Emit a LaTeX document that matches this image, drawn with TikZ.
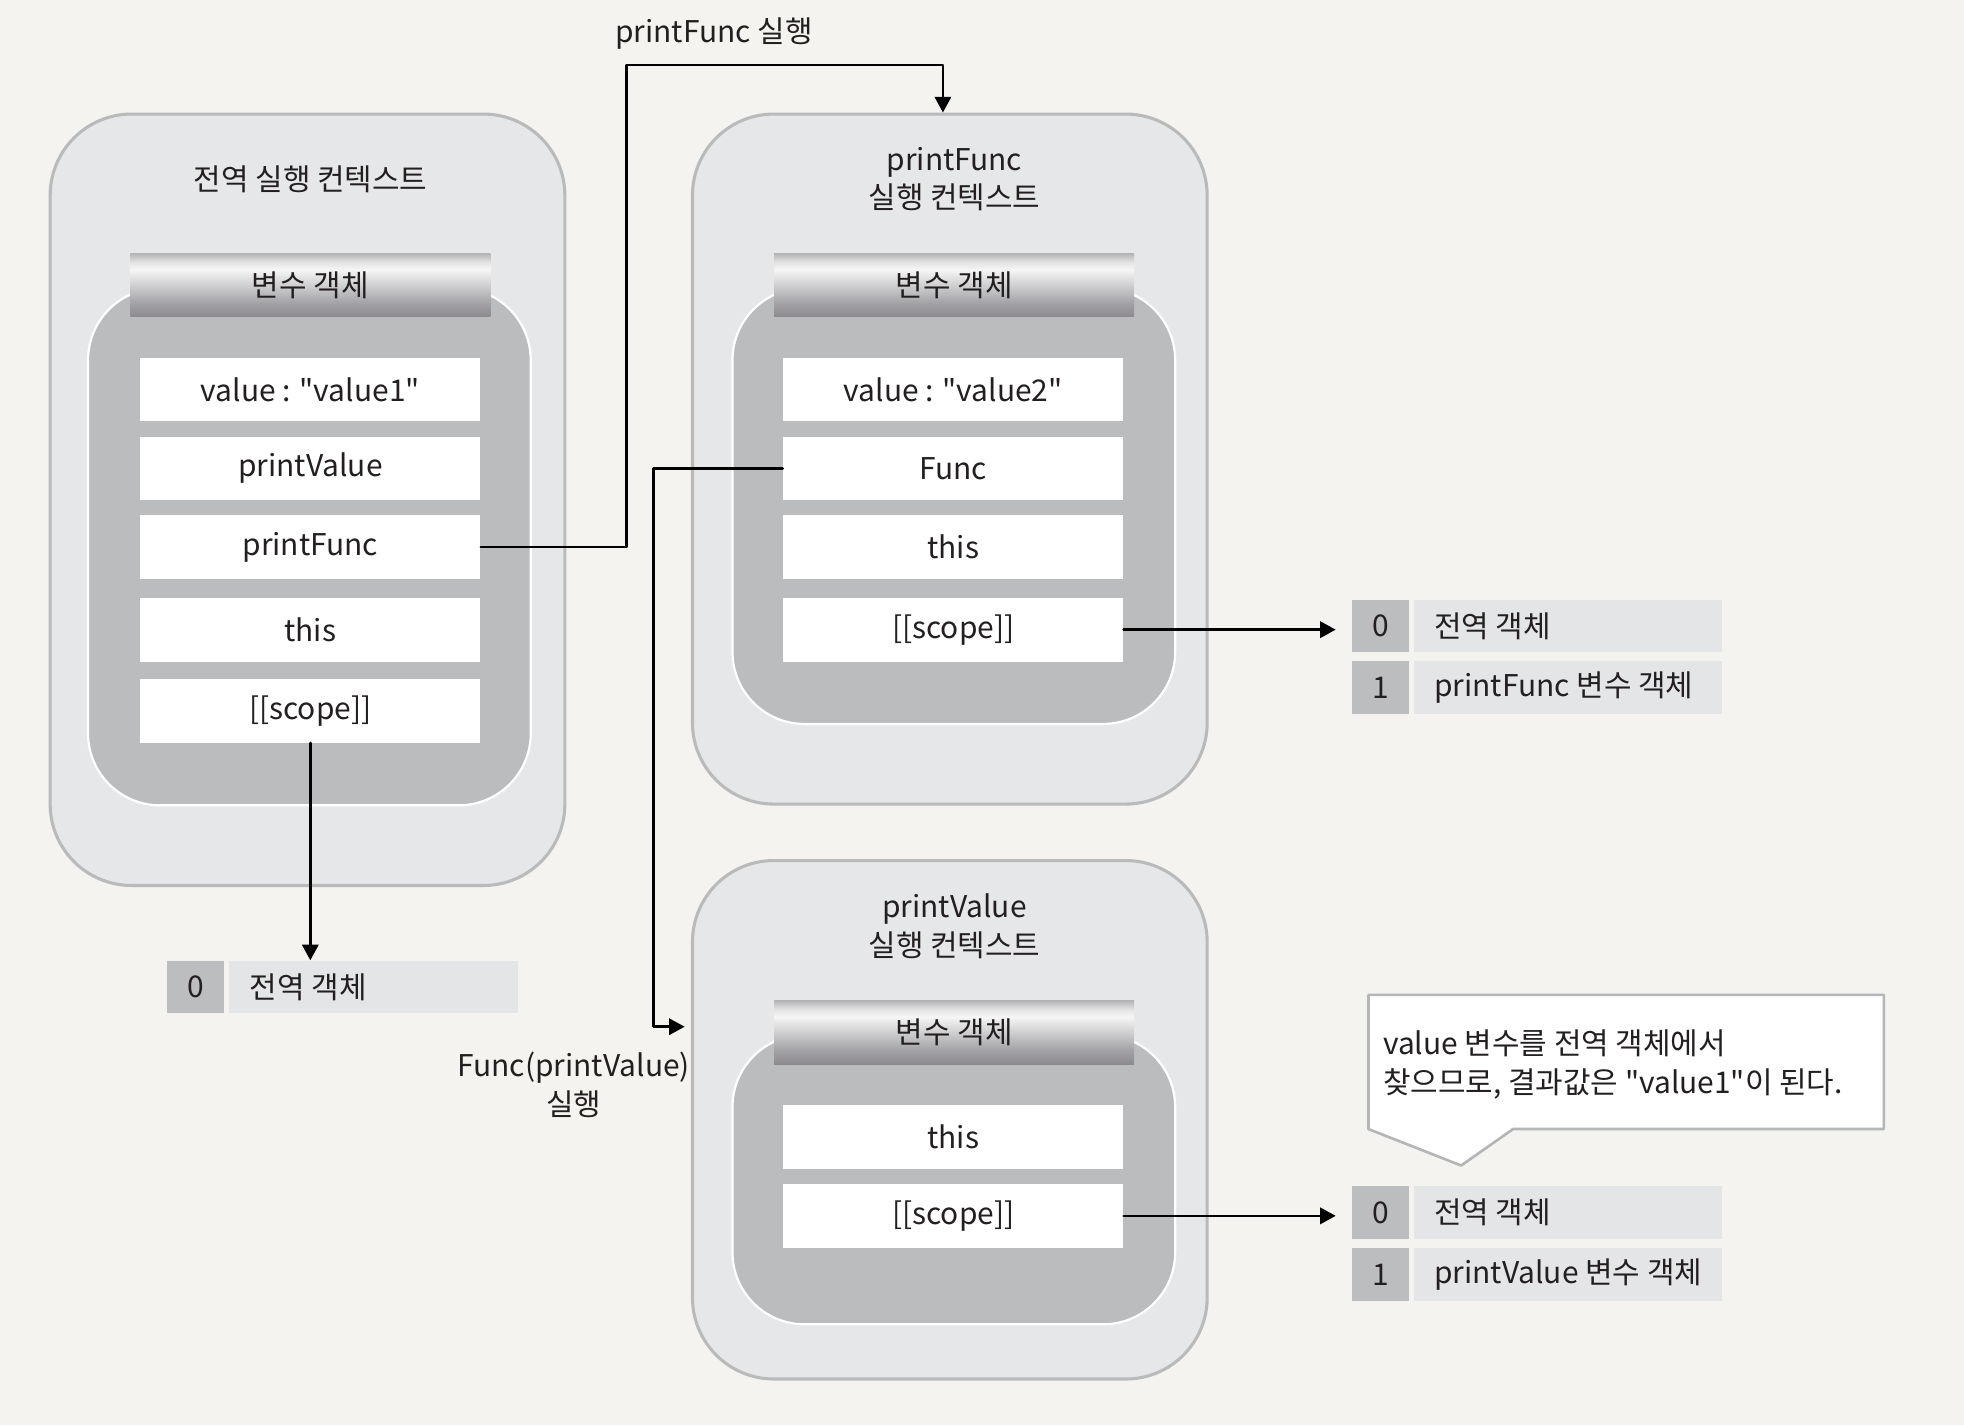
\documentclass[tikz,border=0pt]{standalone}
\usepackage{fontspec}
\newfontfamily\kofont{Noto Sans CJK KR}
\usepackage{tikz}
\usetikzlibrary{calc}
\usetikzlibrary{arrows.meta}
\definecolor{paper}{RGB}{244,243,239}
\definecolor{ecfill}{RGB}{230,231,233}
\definecolor{ecline}{RGB}{185,186,188}
\definecolor{vofill}{RGB}{187,188,190}
\definecolor{idxfill}{RGB}{188,189,191}
\definecolor{lblfill}{RGB}{228,229,231}
\definecolor{noteline}{RGB}{180,181,183}
\definecolor{ink}{RGB}{35,31,32}
\definecolor{hbot}{RGB}{140,138,143}
\definecolor{hlow}{RGB}{163,162,166}
\definecolor{hmid}{RGB}{246,246,246}
\definecolor{hhi}{RGB}{226,226,227}
\definecolor{htop}{RGB}{178,178,180}
\pgfdeclareverticalshading{voshade}{100bp}{color(0bp)=(hbot); color(25bp)=(hbot); color(36bp)=(hlow); color(62bp)=(hmid); color(68bp)=(hhi); color(75bp)=(htop); color(100bp)=(htop)}
\tikzstyle{every node}=[font=\kofont\fontsize{13.6pt}{17.5pt}\selectfont, text=ink]
\tikzstyle{ecbox}=[draw=ecline, fill=ecfill, line width=1.4pt, rounded corners=1.3cm, minimum width=8.22cm]
\tikzstyle{vobox}=[draw=white, fill=vofill, line width=1pt, rounded corners=1.15cm, minimum width=7.07cm]
\tikzstyle{vohead}=[shading=voshade, minimum width=5.75cm, minimum height=1.02cm, inner sep=0pt]
\tikzstyle{slot}=[fill=white, minimum width=5.43cm, minimum height=1.02cm, inner sep=0pt]
\tikzstyle{idx}=[fill=idxfill, minimum width=0.91cm, minimum height=0.84cm, inner sep=0pt]
\tikzstyle{lbl}=[fill=lblfill, minimum height=0.84cm, inner ysep=0pt, inner xsep=0.33cm]
\tikzstyle{link}=[->, line width=1.2pt, draw=black]

\begin{document}
\begin{tikzpicture}[line cap=round,line join=round,>={Triangle[length=0.25cm,width=0.26cm]},x=0.02cm,y=-0.02cm]
\useasboundingbox (0,0) rectangle (1568,1138);
\fill [paper] (0,0) rectangle (1568,1138);
% global execution context
\node [ecbox, minimum height=12.32cm] (gec) at (245.5,399) {};
\node (gtitle) at (248,143) {전역 실행 컨텍스트};
\node [vobox, minimum height=8.26cm] (gvo) at (247,436.5) {};
\node [vohead] (ghead) at (247.75,227.5) {변수 객체};
\node [slot] (gval) at (247.75,311) {value : "value1"};
\node [slot] (gpv) at (247.75,374) {printValue};
\node [slot] (gpf) at (247.75,436.7) {printFunc};
\node [slot] (gthis) at (247.75,502.7) {this};
\node [slot] (gscope) at (247.75,567.3) {[[scope]]};
\node [idx] (t1i0) at (156.25,788) {0};
\node [lbl] (t1l0) at (298.25,788) {\makebox[3.95cm][l]{전역 객체}};
% printFunc execution context
\node [ecbox, minimum height=11.02cm] (fec) at (758.3,366.5) {};
\node [align=center] (ftitle) at (762,143) {printFunc\\실행 컨텍스트};
\node [vobox, minimum height=6.96cm] (fvo) at (761.5,404) {};
\node [vohead] (fhead) at (761.75,227.5) {변수 객체};
\node [slot] (fval) at (761,311) {value : "value2"};
\node [slot] (ffunc) at (761,374) {Func};
\node [slot] (fthis) at (761,436.7) {this};
\node [slot] (fscope) at (761,502.7) {[[scope]]};
\node [idx] (t2i0) at (1102,499.75) {0};
\node [lbl] (t2l0) at (1251.75,499.75) {\makebox[4.27cm][l]{전역 객체}};
\node [idx] (t2i1) at (1102,549) {1};
\node [lbl] (t2l1) at (1251.75,549) {\makebox[4.27cm][l]{printFunc 변수 객체}};
% printValue execution context
\node [ecbox, minimum height=8.28cm] (pec) at (758.3,894) {};
\node [align=center] (ptitle) at (762,739.5) {printValue\\실행 컨텍스트};
\node [vobox, minimum height=4.62cm] (pvo) at (761.5,941.8) {};
\node [vohead] (phead) at (761.75,824) {변수 객체};
\node [slot] (pthis) at (761,907.5) {this};
\node [slot] (pscope) at (761,970.7) {[[scope]]};
\node [idx] (t3i0) at (1102,968) {0};
\node [lbl] (t3l0) at (1251.75,968) {\makebox[4.27cm][l]{전역 객체}};
\node [idx] (t3i1) at (1102,1017.5) {1};
\node [lbl] (t3l1) at (1251.75,1017.5) {\makebox[4.27cm][l]{printValue 변수 객체}};
% note
\draw [fill=white, draw=noteline, line width=1.2pt] (1092.5,794.3) -- (1504,794.3) -- (1504,901.4) -- (1208,901.4) -- (1166.5,930.5) -- (1092.5,901.4) -- cycle;
\node [anchor=west, align=left] (note) at (1098,850) {value 변수를 전역 객체에서\\찾으므로, 결과값은 "value1"이 된다.};
% connectors
\coordinate (up1) at (500,52);
\coordinate (dn1) at (521.5,819.7);
\node (runpf) at (570,27) {printFunc 실행};
\node [align=center] (runpv) at (458,866) {Func(printValue)\\실행};
\draw [link] (gpf.east) -| (up1) -| ([xshift=-0.11cm]fec.north);
\draw [link, shorten >=0.1cm] (ffunc.west) -| (dn1) -- (dn1 -| pec.west);
\draw [link] (gscope.south) -- (gscope.south |- t1l0.north);
\draw [link, shorten >=0.25cm] (fscope.east) -- (fscope.east -| t2i0.west);
\draw [link, shorten >=0.25cm] (pscope.east) -- (pscope.east -| t3i0.west);
\end{tikzpicture}
\end{document}
